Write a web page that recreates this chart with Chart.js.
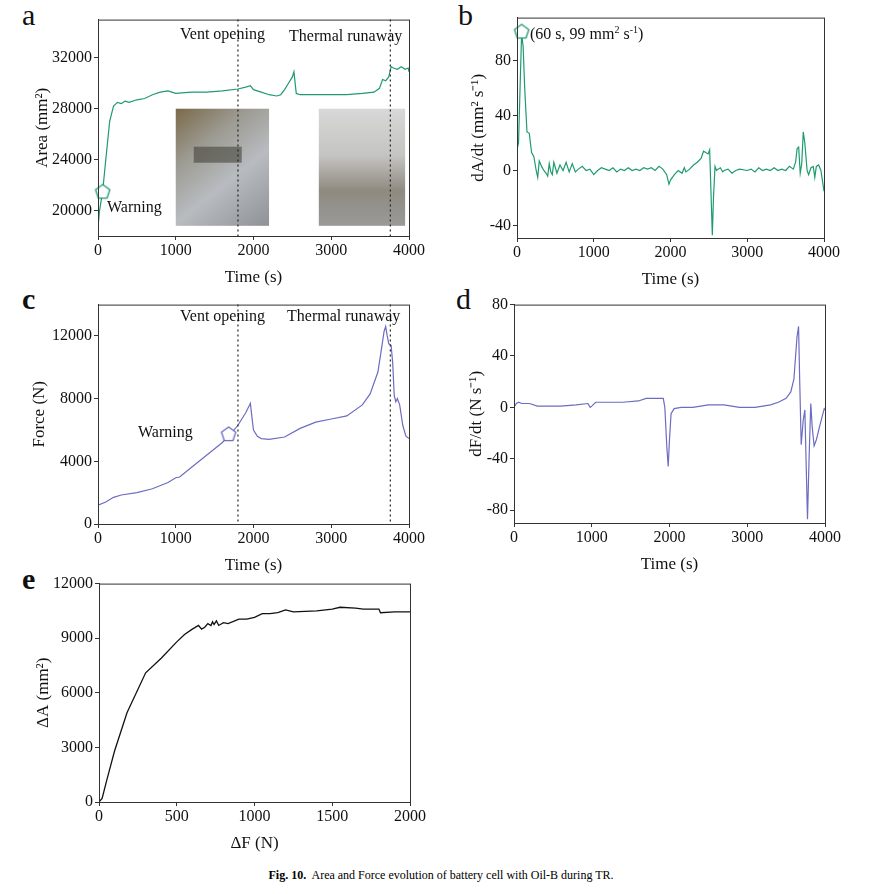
<!DOCTYPE html>
<html>
<head>
<meta charset="utf-8">
<script src="https://cdn.jsdelivr.net/npm/chart.js@4/dist/chart.umd.min.js"></script>
<style>
body { margin: 0; background: #fff; width: 882px; height: 894px; position: relative; font-family: "Liberation Serif", serif; }
.box { position: absolute; }
.lbl { position: absolute; font-size: 16px; color: #111; white-space: nowrap; }
.letter { position: absolute; font-size: 30px; color: #111; }
.cap { position: absolute; top: 868px; left: 0; width: 882px; text-align: center; font-size: 12px; }
</style>
</head>
<body>
<div class="letter" style="left:22px;top:-2px">a</div>
<div class="letter" style="left:458px;top:-2px">b</div>
<div class="letter" style="left:22px;top:282px;font-weight:bold">c</div>
<div class="letter" style="left:456px;top:282px">d</div>
<div class="letter" style="left:22px;top:562px;font-weight:bold">e</div>

<div class="box" id="wa"><canvas id="ca"></canvas></div>
<div class="box" id="wb"><canvas id="cb"></canvas></div>
<div class="box" id="wc"><canvas id="cc"></canvas></div>
<div class="box" id="wd"><canvas id="cd"></canvas></div>
<div class="box" id="we"><canvas id="ce"></canvas></div>

<div class="lbl" style="left:180px;top:25px">Vent opening</div>
<div class="lbl" style="left:289px;top:27px">Thermal runaway</div>
<div class="lbl" style="left:107px;top:198px">Warning</div>
<div class="lbl" style="left:530px;top:24px">(60 s, 99 mm<sup style="font-size:10px">2</sup> s<sup style="font-size:10px">-1</sup>)</div>
<div class="lbl" style="left:180px;top:307px">Vent opening</div>
<div class="lbl" style="left:287px;top:307px">Thermal runaway</div>
<div class="lbl" style="left:138px;top:423px">Warning</div>
<div class="cap"><b>Fig. 10.</b>&nbsp; Area and Force evolution of battery cell with Oil-B during TR.</div>

<script>
// ---- data ----
const timeA = [0, 20, 60, 100, 150, 200, 250, 300, 350, 400, 500, 600, 700, 800, 900, 1000, 1200, 1400, 1600, 1800, 1900, 1960, 2000, 2100, 2200, 2300, 2350, 2400, 2450, 2500, 2520, 2550, 2600, 2800, 3000, 3200, 3400, 3550, 3620, 3660, 3700, 3740, 3770, 3800, 3850, 3900, 3950, 3990, 4000];
const area = [18700, 20000, 21500, 24000, 27000, 28200, 28500, 28400, 28600, 28500, 28700, 28800, 29100, 29300, 29400, 29200, 29300, 29300, 29400, 29550, 29700, 29800, 29500, 29300, 29100, 29000, 29100, 29500, 30000, 30500, 30900, 29200, 29100, 29100, 29100, 29100, 29200, 29300, 29600, 30300, 30200, 30500, 31300, 31200, 31100, 31300, 31100, 31200, 30900];

const timeB = [0, 20, 40, 60, 80, 100, 130, 160, 190, 220, 250, 270, 290, 320, 350, 380, 400, 420, 440, 460, 480, 500, 520, 560, 600, 640, 680, 720, 760, 800, 850, 900, 950, 1000, 1050, 1100, 1150, 1200, 1250, 1300, 1350, 1400, 1450, 1500, 1550, 1600, 1650, 1700, 1750, 1800, 1850, 1900, 1950, 1980, 2000, 2050, 2100, 2150, 2180, 2200, 2250, 2300, 2350, 2400, 2430, 2460, 2490, 2510, 2530, 2545, 2560, 2580, 2600, 2620, 2650, 2680, 2700, 2750, 2800, 2850, 2900, 3000, 3050, 3100, 3150, 3200, 3250, 3300, 3350, 3400, 3450, 3500, 3550, 3600, 3630, 3650, 3670, 3690, 3710, 3730, 3750, 3780, 3800, 3830, 3860, 3880, 3900, 3930, 3960, 4000];
const dAdt = [15, 20, 60, 99, 90, 60, 28, 27, 13, 10, 0, -5, 7, 3, 0, -2, -4, 5, -1, -3, 6, 2, -2, 4, 0, 6, -1, 5, -1, 1, 3, 0, 1, -3, 0, 2, 1, 0, 2, -1, 1, 0, 2, 0, 1, 0, 2, 1, 2, 0, 3, 1, -3, -10, -7, -3, 0, -2, 2, -1, 1, 4, 6, 9, 14, 13, 12, 15, -20, -47, -20, 3, 0, 1, 2, -1, 0, 1, -2, 0, 1, 0, 1, -1, 2, 0, 1, 0, 2, 0, 1, 0, 3, 1, 6, 16, 17, -2, 5, 28, 20, 0, -3, 2, 3, -5, 3, 4, 0, -15];

const timeC = [0, 100, 200, 300, 500, 700, 900, 1000, 1050, 1200, 1400, 1600, 1700, 1800, 1900, 1960, 1980, 2000, 2050, 2100, 2200, 2400, 2600, 2800, 3000, 3200, 3400, 3500, 3600, 3650, 3680, 3700, 3720, 3740, 3770, 3790, 3810, 3830, 3850, 3880, 3920, 3960, 4000];
const force = [1200, 1400, 1700, 1850, 2000, 2250, 2650, 2950, 3000, 3600, 4400, 5200, 5700, 6300, 7100, 7700, 6800, 6000, 5600, 5450, 5400, 5550, 6100, 6500, 6700, 6900, 7600, 8300, 9700, 11300, 12300, 12600, 12000, 11500, 11400, 10300, 8200, 7800, 8000, 7600, 6300, 5600, 5450];

const timeD = [0, 30, 60, 100, 200, 300, 400, 600, 800, 950, 980, 1000, 1050, 1200, 1400, 1600, 1700, 1800, 1920, 1940, 1965, 1983, 2000, 2020, 2060, 2150, 2300, 2400, 2500, 2600, 2700, 2800, 2900, 3000, 3100, 3200, 3300, 3400, 3500, 3560, 3600, 3640, 3660, 3675, 3694, 3720, 3741, 3760, 3775, 3795, 3817, 3835, 3860, 3890, 3930, 3960, 3990, 4000];
const dFdt = [0, 3, 4, 3, 3, 1, 1, 1, 2, 3, 0, 1, 4, 4, 4, 5, 7, 7, 7, 0, -30, -46, -25, -5, -1, 0, 0, 1, 2, 2, 2, 1, 0, 0, 0, 1, 2, 4, 7, 12, 22, 55, 63, 20, -29, -10, -2, -50, -87, -40, 3, -15, -30, -25, -15, -8, -1, -2];

const deltaF = [0, 20, 50, 100, 180, 300, 400, 500, 550, 600, 640, 660, 680, 700, 720, 730, 740, 755, 770, 800, 830, 900, 950, 1000, 1050, 1100, 1150, 1200, 1250, 1400, 1500, 1550, 1650, 1700, 1800, 1810, 1900, 2000];
const deltaA = [0, 200, 1200, 2800, 4900, 7100, 7900, 8800, 9200, 9500, 9700, 9500, 9600, 9800, 9700, 9900, 9750, 9950, 9700, 9850, 9800, 10050, 10050, 10150, 10350, 10350, 10400, 10550, 10450, 10500, 10600, 10700, 10650, 10600, 10600, 10400, 10450, 10450];

const timeTicks = [0, 1000, 2000, 3000, 4000];
const ticksA = [20000, 24000, 28000, 32000];
const ticksB = [-40, 0, 40, 80];
const ticksC = [0, 4000, 8000, 12000];
const ticksD = [-80, -40, 0, 40, 80];
const ticksEy = [0, 3000, 6000, 9000, 12000];
const ticksEx = [0, 500, 1000, 1500, 2000];
const eventTimes = [1800, 3760];

const green = '#1f9b6e';
const purple = '#6c6cc2';

// pentagon point style
function pentagon(color) {
  const c = document.createElement('canvas');
  c.width = 18; c.height = 18;
  const g = c.getContext('2d');
  g.beginPath();
  for (let i = 0; i < 5; i++) {
    const a = -Math.PI / 2 + i * 2 * Math.PI / 5;
    const px = 9 + 7.5 * Math.cos(a), py = 9.5 + 7.5 * Math.sin(a);
    i ? g.lineTo(px, py) : g.moveTo(px, py);
  }
  g.closePath();
  g.fillStyle = '#fff'; g.fill();
  g.strokeStyle = color; g.lineWidth = 1.3; g.stroke();
  return c;
}

const pts = (xs, ys) => xs.map((x, i) => ({ x: x, y: ys[i] }));

const frame = {
  id: 'frame',
  afterDatasetsDraw(chart, args, opts) {
    const ctx = chart.ctx, a = chart.chartArea;
    ctx.save();
    if (opts.lines) {
      ctx.strokeStyle = '#222'; ctx.lineWidth = 1.2; ctx.setLineDash([2, 3]);
      opts.lines.forEach(t => {
        const x = chart.scales.x.getPixelForValue(t);
        ctx.beginPath(); ctx.moveTo(x, a.top); ctx.lineTo(x, a.bottom); ctx.stroke();
      });
      ctx.setLineDash([]);
    }
    ctx.strokeStyle = '#333'; ctx.lineWidth = 1;
    ctx.strokeRect(a.left + 0.5, a.top + 0.5, a.right - a.left, a.bottom - a.top);
    ctx.restore();
  }
};

const photos = {
  id: 'photos',
  beforeDatasetsDraw(chart, args, opts) {
    if (!opts.show) return;
    const ctx = chart.ctx, x = chart.scales.x, y = chart.scales.y;
    ctx.save();
    // left photo: transparent fixture
    let x0 = x.getPixelForValue(1000), x1 = x.getPixelForValue(2200);
    let y0 = y.getPixelForValue(28000), y1 = y.getPixelForValue(18800);
    let g = ctx.createLinearGradient(x0, y0, x1, y1);
    g.addColorStop(0, '#7a6a48'); g.addColorStop(0.3, '#9c9a92'); g.addColorStop(0.6, '#b8bcc0'); g.addColorStop(1, '#8e9196');
    ctx.fillStyle = g; ctx.fillRect(x0, y0, x1 - x0, y1 - y0);
    ctx.fillStyle = 'rgba(60,58,50,0.55)'; ctx.fillRect(x0 + 18, y0 + 38, 48, 16);
    // right photo: smoke
    x0 = x.getPixelForValue(2840); x1 = x.getPixelForValue(3950);
    g = ctx.createLinearGradient(x0, y0, x0, y1);
    g.addColorStop(0, '#d8d8d8'); g.addColorStop(0.4, '#c4c4c2'); g.addColorStop(0.7, '#8f8a80'); g.addColorStop(1, '#9a9a98');
    ctx.fillStyle = g; ctx.fillRect(x0, y0, x1 - x0, y1 - y0);
    ctx.restore();
  }
};

const tickFont = { family: 'Liberation Serif', size: 16 };
const titleFont = { family: 'Liberation Serif', size: 17 };

function makeChart(id, wrap, geo, cfg) {
  // geo: chart area L,T,R,B and y axis width
  const left = geo.L - geo.yw, top = geo.T - 10;
  const w = document.getElementById(wrap);
  w.style.left = left + 'px'; w.style.top = top + 'px';
  w.style.width = (geo.R - left + 14) + 'px'; w.style.height = (geo.B + 56 - top) + 'px';
  const tickArr = arr => function (scale) { scale.ticks = arr.map(v => ({ value: v })); };
  return new Chart(document.getElementById(id), {
    type: 'line',
    data: { datasets: cfg.datasets },
    plugins: [photos, frame],
    options: {
      responsive: true, maintainAspectRatio: false, animation: false,
      layout: { padding: { top: 10, right: 14, left: 0, bottom: 0 } },
      plugins: { legend: { display: false }, tooltip: { enabled: false }, frame: { lines: cfg.lines }, photos: { show: cfg.photos } },
      scales: {
        x: {
          type: 'linear', min: cfg.xmin, max: cfg.xmax,
          afterBuildTicks: tickArr(cfg.xticks),
          afterFit: s => { s.height = 56; },
          grid: { drawOnChartArea: false, tickLength: 4, color: '#333' },
          border: { color: '#333' },
          ticks: { font: tickFont, color: '#111', padding: 1, maxRotation: 0, callback: v => String(v) },
          title: { display: true, text: cfg.xtitle, font: titleFont, color: '#111', padding: 4 }
        },
        y: {
          min: cfg.ymin, max: cfg.ymax,
          afterBuildTicks: tickArr(cfg.yticks),
          afterFit: s => { s.width = geo.yw; },
          grid: { drawOnChartArea: false, tickLength: 4, color: '#333' },
          border: { color: '#333' },
          ticks: { font: tickFont, color: '#111', padding: 2, callback: v => String(v) },
          title: { display: true, text: cfg.ytitle, font: titleFont, color: '#111', padding: 2 }
        }
      }
    }
  });
}

function line(xs, ys, color, width) {
  return { data: pts(xs, ys), borderColor: color, borderWidth: width || 1.2, pointRadius: 0, tension: 0, fill: false };
}
function marker(x, y, color) {
  return { data: [{ x: x, y: y }], pointStyle: pentagon(color), pointRadius: 9, showLine: false, borderColor: color, clip: false };
}

makeChart('ca', 'wa', { L: 98, T: 18, R: 412, B: 236, yw: 68 }, {
  datasets: [marker(60, 21500, green), line(timeA, area, green)],
  lines: eventTimes, photos: true,
  xmin: 0, xmax: 4000, xticks: timeTicks, xtitle: 'Time (s)',
  ymin: 18000, ymax: 35000, yticks: ticksA, ytitle: 'Area (mm²)'
});
makeChart('cb', 'wb', { L: 517, T: 16, R: 827, B: 238, yw: 51 }, {
  datasets: [marker(60, 101, green), line(timeB, dAdt, green)],
  xmin: 0, xmax: 4000, xticks: timeTicks, xtitle: 'Time (s)',
  ymin: -49, ymax: 111, yticks: ticksB, ytitle: 'dA/dt (mm² s⁻¹)'
});
makeChart('cc', 'wc', { L: 98, T: 303, R: 412, B: 524, yw: 71 }, {
  datasets: [marker(1680, 5750, purple), line(timeC, force, purple)],
  lines: eventTimes,
  xmin: 0, xmax: 4000, xticks: timeTicks, xtitle: 'Time (s)',
  ymin: 0, ymax: 14000, yticks: ticksC, ytitle: 'Force (N)'
});
makeChart('cd', 'wd', { L: 514, T: 303, R: 828, B: 523, yw: 50 }, {
  datasets: [line(timeD, dFdt, purple)],
  xmin: 0, xmax: 4000, xticks: timeTicks, xtitle: 'Time (s)',
  ymin: -90, ymax: 80, yticks: ticksD, ytitle: 'dF/dt (N s⁻¹)'
});
makeChart('ce', 'we', { L: 99, T: 582, R: 413, B: 802, yw: 68 }, {
  datasets: [line(deltaF, deltaA, '#111', 1.3)],
  xmin: 0, xmax: 2000, xticks: ticksEx, xtitle: 'ΔF (N)',
  ymin: 0, ymax: 12000, yticks: ticksEy, ytitle: 'ΔA (mm²)'
});
</script>
</body>
</html>
